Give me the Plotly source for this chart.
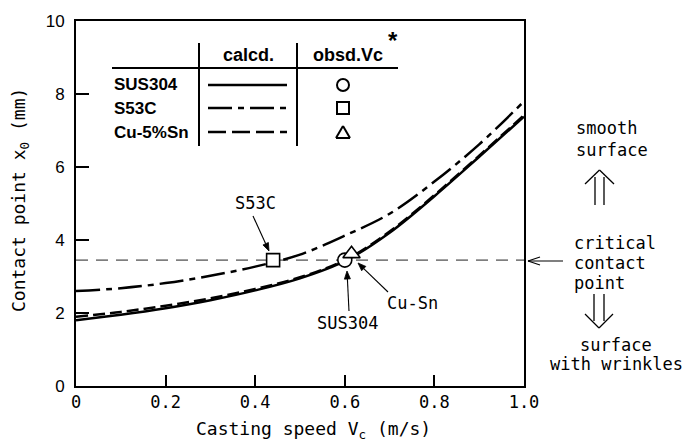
import math
import plotly.graph_objects as go

# ---------------- data ----------------
vc = [0.0, 0.1, 0.2, 0.3, 0.4, 0.5, 0.6, 0.7, 0.8, 0.9, 1.0]
x0_sus304 = [1.80, 1.95, 2.13, 2.35, 2.62, 2.95, 3.42, 4.20, 5.20, 6.28, 7.38]
x0_s53c = [2.60, 2.68, 2.82, 3.02, 3.27, 3.60, 4.12, 4.72, 5.60, 6.62, 7.80]
x0_cusn = [1.90, 2.03, 2.20, 2.40, 2.66, 2.98, 3.45, 4.23, 5.23, 6.31, 7.42]

critical_x0 = 3.45
obs_labels = ["SUS304", "S53C", "Cu-Sn"]
obs_vc = [0.60, 0.44, 0.615]
obs_x0 = [3.45, 3.45, 3.62]

x_ticks = [0, 0.2, 0.4, 0.6, 0.8, 1.0]
x_ticklabels = ["0", "0.2", "0.4", "0.6", "0.8", "1.0"]
y_ticks = [0, 2, 4, 6, 8, 10]
y_ticklabels = ["0", "2", "4", "6", "8", "10"]

# ---------------- layout helpers ----------------
W, H = 699, 443
L, R, T, B = 76, 524, 21, 386


def px(x):
    return (x - L) / (R - L)


def py(y):
    return (B - y) / (B - T)


MONO = "DejaVu Sans Mono"
SANS = "Liberation Sans"
S53C_DASH = "24px,6px,6px,6px"
CUSN_DASH = "12px,5px"

fig = go.Figure()

fig.add_trace(go.Scatter(x=[vc[0], vc[-1]], y=[critical_x0, critical_x0], mode="lines",
                         line=dict(color="#222", width=1, dash="12px,8px"), hoverinfo="skip"))
fig.add_trace(go.Scatter(x=vc, y=x0_s53c, mode="lines", line_shape="spline",
                         line=dict(color="black", width=2.5, dash=S53C_DASH)))
fig.add_trace(go.Scatter(x=vc, y=x0_sus304, mode="lines", line_shape="spline",
                         line=dict(color="black", width=2.5)))
fig.add_trace(go.Scatter(x=vc, y=x0_cusn, mode="lines", line_shape="spline",
                         line=dict(color="black", width=2.5, dash=CUSN_DASH)))

symbols = ["circle", "square", "triangle-up"]
sizes = [14, 13, 15]
for i in range(3):
    fig.add_trace(go.Scatter(x=[obs_vc[i]], y=[obs_x0[i]], mode="markers",
                             marker=dict(symbol=symbols[i], size=sizes[i], color="white",
                                         line=dict(color="black", width=1.6))))

shapes = []


def seg(x1, y1, x2, y2, w=1.5, dash=None):
    d = dict(type="line", xref="paper", yref="paper",
             x0=px(x1), y0=py(y1), x1=px(x2), y1=py(y2),
             line=dict(color="black", width=w))
    if dash:
        d["line"]["dash"] = dash
    shapes.append(d)


def arrow(x1, y1, x2, y2, w=1.1, hl=8, hw=3):
    # line from tail (x1,y1) to tip (x2,y2) with small filled head
    dx, dy = x2 - x1, y2 - y1
    n = math.hypot(dx, dy)
    ux, uy = dx / n, dy / n
    bx, by = x2 - ux * hl, y2 - uy * hl
    seg(x1, y1, bx, by, w)
    p1 = (bx - uy * hw, by + ux * hw)
    p2 = (bx + uy * hw, by - ux * hw)
    path = "M {} {} L {} {} L {} {} Z".format(px(x2), py(y2), px(p1[0]), py(p1[1]),
                                             px(p2[0]), py(p2[1]))
    shapes.append(dict(type="path", xref="paper", yref="paper", path=path,
                       fillcolor="black", line=dict(color="black", width=0.8)))


# legend table
seg(112, 68, 398, 68, 2)
seg(199, 43, 199, 146, 2)
seg(297, 43, 297, 146, 2)
seg(208, 85, 287, 85, 2.5)
seg(208, 108, 287, 108, 2.5, S53C_DASH)
seg(208, 132, 287, 132, 2.5, "18px,6px")
# legend markers
shapes.append(dict(type="circle", xref="paper", yref="paper",
                   x0=px(337), x1=px(349), y0=py(91), y1=py(79),
                   line=dict(color="black", width=2)))
shapes.append(dict(type="rect", xref="paper", yref="paper",
                   x0=px(337), x1=px(349), y0=py(114), y1=py(102),
                   line=dict(color="black", width=2)))
seg(336, 138, 350, 138, 2)
seg(336, 138, 343, 126, 2)
seg(350, 138, 343, 126, 2)

# right-hand double arrows
seg(595, 205, 595, 177, 1.3)
seg(604, 205, 604, 177, 1.3)
seg(585, 184, 599.5, 170, 1.3)
seg(614, 184, 599.5, 170, 1.3)
seg(594, 294, 594, 321, 1.3)
seg(604, 294, 604, 321, 1.3)
seg(585, 314, 599, 328, 1.3)
seg(613, 314, 599, 328, 1.3)
# critical arrow
seg(528, 261, 563, 261, 1.2)
seg(528, 261, 540, 257, 1.2)
seg(528, 261, 540, 265, 1.2)

annotations = []


def txt(text, x, y, size=17, family=MONO, xanchor="center", **kw):
    annotations.append(dict(text=text, xref="paper", yref="paper", x=px(x), y=py(y),
                            xanchor=xanchor, yanchor="middle", showarrow=False,
                            font=dict(family=family, size=size, color="black"), **kw))


# legend text
txt("<b>calcd.</b>", 248, 55, 18, SANS)
txt("<b>obsd.Vc</b>", 348, 55, 18, SANS)
txt("<b>*</b>", 393, 40, 24, SANS)
txt("<b>SUS304</b>", 112, 85, 17, SANS, xanchor="left")
txt("<b>S53C</b>", 112, 108, 17, SANS, xanchor="left")
txt("<b>Cu-5%Sn</b>", 112, 132, 17, SANS, xanchor="left")

# right text
txt("smooth", 574, 128, xanchor="left")
txt("surface", 574, 150, xanchor="left")
txt("critical", 572, 243, xanchor="left")
txt("contact", 572, 263, xanchor="left")
txt("point", 572, 283, xanchor="left")
txt("surface", 616, 345)
txt("with wrinkles", 616, 364)

# axis titles
txt("Casting speed V<sub>c</sub> (m/s)", 313, 430, 18)
txt("Contact point x<sub>0</sub> (mm)", 20, 200, 18, textangle=-90)

# marker labels (text) and arrows
label_pos = [(347, 323), (255, 203), (412, 303)]
arrow_tail = [(349, 311), (253, 216), (388, 292)]
arrow_tip = [(347, 271), (269, 251), (358, 263)]
for i in range(3):
    txt(obs_labels[i], label_pos[i][0], label_pos[i][1])
    arrow(arrow_tail[i][0], arrow_tail[i][1], arrow_tip[i][0], arrow_tip[i][1])

fig.update_layout(
    width=W, height=H,
    margin=dict(l=L, r=W - R, t=T, b=H - B, pad=0),
    paper_bgcolor="white", plot_bgcolor="white",
    showlegend=False,
    shapes=shapes, annotations=annotations,
    xaxis=dict(range=[0, 1.0], tickvals=x_ticks, ticktext=x_ticklabels,
               ticks="inside", ticklen=11, tickwidth=1.5, tickcolor="black",
               showline=True, linecolor="black", linewidth=1.8, mirror=True,
               showgrid=False, zeroline=False,
               tickfont=dict(family=MONO, size=17, color="black"), ticklabelstandoff=0),
    yaxis=dict(range=[0, 10], tickvals=y_ticks, ticktext=y_ticklabels,
               ticks="inside", ticklen=13, tickwidth=1.5, tickcolor="black",
               showline=True, linecolor="black", linewidth=1.8, mirror=True,
               showgrid=False, zeroline=False,
               tickfont=dict(family=SANS, size=17, color="black"), ticklabelstandoff=6),
)

fig.write_html("out.html")
